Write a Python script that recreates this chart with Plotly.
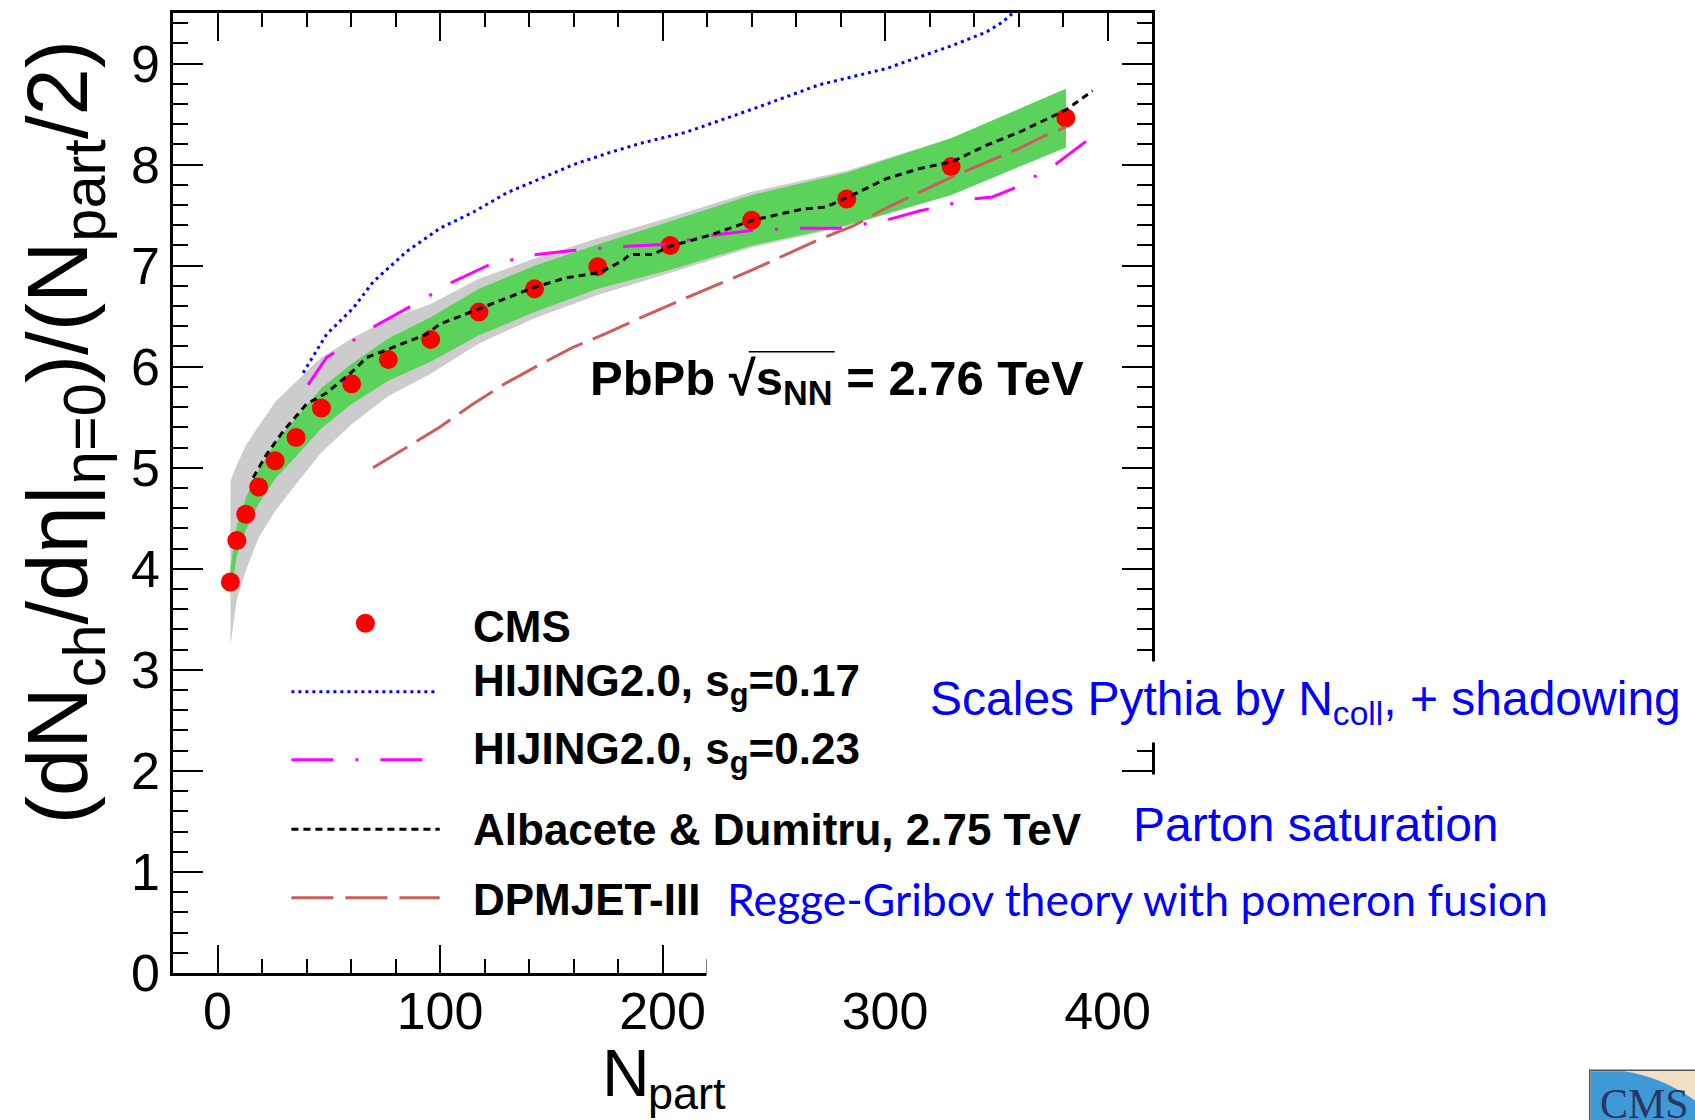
import math
import plotly.graph_objects as go

# ---- CMS measurement: (dN_ch/deta)/(N_part/2) vs N_part, PbPb 2.76 TeV ----
npart = [5.8, 8.7, 12.7, 18.5, 25.9, 35.3, 46.7, 60.3, 76.8, 95.8,
         117.5, 142.5, 170.9, 203.5, 240.1, 282.8, 329.7, 381.3]
cms_val = [3.87, 4.28, 4.54, 4.81, 5.07, 5.30, 5.59, 5.83, 6.07, 6.27,
           6.54, 6.77, 6.99, 7.20, 7.45, 7.66, 7.98, 8.46]
# systematic uncertainty (green band, symmetric)
cms_sys = [0.14, 0.15, 0.16, 0.17, 0.18, 0.19, 0.20, 0.20, 0.21, 0.22,
           0.23, 0.23, 0.22, 0.24, 0.25, 0.26, 0.28, 0.29]
# total uncertainty incl. N_part (grey band)
cms_tot_up = [1.00, 0.75, 0.68, 0.60, 0.58, 0.55, 0.50, 0.45, 0.40, 0.35,
              0.33, 0.30, 0.28, 0.28, 0.28, 0.28, 0.28, 0.29]
cms_tot_dn = [0.63, 0.58, 0.56, 0.50, 0.50, 0.46, 0.44, 0.40, 0.36, 0.34,
              0.31, 0.29, 0.28, 0.27, 0.27, 0.27, 0.28, 0.29]

# ---- model curves ----
hij17_x = [38.5, 49, 61, 70, 85, 100, 115, 130, 145, 160, 175, 190, 210.6,
           240.6, 270.5, 300.5, 330.4, 345.4, 352.8, 358, 362]
hij17_y = [5.94, 6.32, 6.58, 6.84, 7.14, 7.37, 7.53, 7.72, 7.86, 8.00, 8.11,
           8.21, 8.32, 8.55, 8.79, 8.95, 9.18, 9.31, 9.41, 9.51, 9.60]

hij23_x = [40.7, 49, 62.4, 70.6, 87.9, 105.8, 122.3, 143.3, 159.7, 182, 200,
           222.6, 240.6, 261.5, 279.5, 300.5, 315.4, 339.4, 348.3, 357.3,
           375.3, 390.3]
hij23_y = [5.82, 6.09, 6.28, 6.40, 6.61, 6.84, 7.01, 7.11, 7.15, 7.19, 7.21,
           7.30, 7.35, 7.37, 7.37, 7.45, 7.54, 7.66, 7.68, 7.76, 7.98, 8.23]

ad_x = [16, 22, 29.5, 40, 49, 61, 67, 78.9, 93.9, 99.8, 116.3, 141.7, 156.7,
        171.7, 182.2, 185.2, 195.6, 203.1, 221.1, 240.6, 263, 273.5, 285.5,
        300.5, 315.4, 330.4, 345.4, 360.3, 381.3, 393.3]
ad_y = [4.90, 5.13, 5.36, 5.63, 5.74, 5.96, 6.09, 6.19, 6.32, 6.42, 6.56,
        6.78, 6.88, 6.93, 7.05, 7.11, 7.11, 7.19, 7.30, 7.45, 7.56, 7.58,
        7.70, 7.86, 7.96, 8.03, 8.19, 8.32, 8.54, 8.73]

dpm_x = [69.9, 84.9, 99.8, 114.8, 129.8, 144.8, 159.7, 174.7, 189.7, 210.6,
         240.6, 270.5, 285.5, 300.5, 330.4, 360.3, 372.3, 381.3]
dpm_y = [5.00, 5.20, 5.40, 5.63, 5.84, 6.02, 6.19, 6.33, 6.48, 6.68, 6.96,
         7.26, 7.39, 7.57, 7.88, 8.16, 8.29, 8.37]

# axis ticks
x_ticks = [0, 100, 200, 300, 400]
y_ticks = [0, 1, 2, 3, 4, 5, 6, 7, 8, 9]

FONT = "Liberation Sans, Arial, Helvetica, sans-serif"

# plot frame in pixels (figure 1695 x 1120)
W, H = 1695, 1120
PL, PR, PT, PB = 173.3, 1152.3, 10.0, 973.3


def px(x):
    return (x - PL) / (PR - PL)


def py(y):
    return (PB - y) / (PB - PT)


fig = go.Figure()

# grey band: total uncertainty
tot_hi = [v + e for v, e in zip(cms_val, cms_tot_up)]
tot_lo = [v - e for v, e in zip(cms_val, cms_tot_dn)]
fig.add_trace(go.Scatter(x=npart + npart[::-1], y=tot_hi + tot_lo[::-1],
                         fill="toself", fillcolor="#cccccc", mode="none",
                         hoverinfo="skip", showlegend=False))
# green band: systematic uncertainty
sys_hi = [v + e for v, e in zip(cms_val, cms_sys)]
sys_lo = [v - e for v, e in zip(cms_val, cms_sys)]
fig.add_trace(go.Scatter(x=npart + npart[::-1], y=sys_hi + sys_lo[::-1],
                         fill="toself", fillcolor="#5bd35b", mode="none",
                         hoverinfo="skip", showlegend=False))
# CMS points
fig.add_trace(go.Scatter(x=npart, y=cms_val, mode="markers", name="CMS",
                         marker=dict(color="#ff0000", size=19),
                         showlegend=False))
# models
fig.add_trace(go.Scatter(x=dpm_x, y=dpm_y, mode="lines", name="DPMJET-III",
                         line=dict(color="#cd5c5c", width=3,
                                   dash="40px,11px"),
                         showlegend=False))
fig.add_trace(go.Scatter(x=hij23_x, y=hij23_y, mode="lines",
                         name="HIJING2.0, sg=0.23",
                         line=dict(color="#ff00ff", width=3,
                                   dash="42px,22px,3px,22px"),
                         showlegend=False))
fig.add_trace(go.Scatter(x=hij17_x, y=hij17_y, mode="lines",
                         name="HIJING2.0, sg=0.17",
                         line=dict(color="#0000ff", width=3, dash="3px,4px"),
                         showlegend=False))
fig.add_trace(go.Scatter(x=ad_x, y=ad_y, mode="lines",
                         name="Albacete & Dumitru",
                         line=dict(color="#000000", width=3, dash="7px,5px"),
                         showlegend=False))

axis_common = dict(showline=True, linecolor="black", linewidth=2.5,
                   mirror="ticks", ticks="inside", tickwidth=2,
                   tickcolor="black", showgrid=False, zeroline=False,
                   tickfont=dict(family=FONT, size=52, color="black"))

fig.update_xaxes(range=[-20, 420], tickvals=x_ticks, ticklen=28,
                 ticklabelstandoff=-9,
                 minor=dict(ticks="inside", ticklen=14, dtick=20,
                            tickcolor="black", tickwidth=2, showgrid=False),
                 **axis_common)
fig.update_yaxes(range=[0, 9.5], tickvals=y_ticks, ticklen=30,
                 minor=dict(ticks="inside", ticklen=15, dtick=0.2,
                            tickcolor="black", tickwidth=2, showgrid=False),
                 **axis_common)

shapes = []
ann = []

# ---- legend drawn by hand ----
leg_x0, leg_x1 = 291.7, 440.0
shapes.append(dict(type="circle", xref="paper", yref="paper",
                   xsizemode="pixel", ysizemode="pixel",
                   xanchor=px(365.7), yanchor=py(622.3),
                   x0=-9.5, x1=9.5, y0=-9.5, y1=9.5,
                   fillcolor="#ff0000", line=dict(width=0)))
leg_lines = [
    (691.0, "#0000ff", "3px,4px", 436.7),
    (759.3, "#ff00ff", "42px,22px,3px,22px", 423.0),
    (829.0, "#000000", "7px,5px", leg_x1),
    (897.7, "#cd5c5c", "42px,12px", leg_x1),
]
for yy, col, dash, xend in leg_lines:
    shapes.append(dict(type="line", xref="paper", yref="paper",
                       x0=px(leg_x0), x1=px(xend), y0=py(yy), y1=py(yy),
                       line=dict(color=col, width=3, dash=dash)))

leg_text = [
    ("<b>CMS</b>", 626.0),
    ("<b>HIJING2.0, s<sub>g</sub>=0.17</b>", 683.0),
    ("<b>HIJING2.0, s<sub>g</sub>=0.23</b>", 752.0),
    ("<b>Albacete &amp; Dumitru, 2.75 TeV</b>", 829.0),
    ("<b>DPMJET-III</b>", 900.0),
]
for txt, yy in leg_text:
    ann.append(dict(text=txt, xref="paper", yref="paper", x=px(471.7),
                    y=py(yy), xanchor="left", yanchor="middle",
                    showarrow=False,
                    font=dict(family=FONT, size=44, color="black")))

# collision system label, with the bar of the square root
ann.append(dict(text="<b>PbPb √s<sub>NN</sub> = 2.76 TeV</b>",
                xref="paper", yref="paper", x=px(588), y=py(380),
                xanchor="left", yanchor="middle", showarrow=False,
                font=dict(family=FONT, size=49, color="black")))
shapes.append(dict(type="line", xref="paper", yref="paper",
                   x0=px(749), x1=px(835), y0=py(350), y1=py(350),
                   line=dict(color="black", width=1.5)))

# axis titles
ann.append(dict(text="N", xref="paper", yref="paper",
                x=px(600), y=py(1074), xanchor="left", yanchor="middle",
                showarrow=False,
                font=dict(family=FONT, size=66, color="black")))
ann.append(dict(text="part", xref="paper", yref="paper",
                x=px(646), y=py(1094), xanchor="left", yanchor="middle",
                showarrow=False,
                font=dict(family=FONT, size=45, color="black")))
ann.append(dict(text="(dN<sub>ch</sub>/dη|<sub>η=0</sub>)/(N<sub>part</sub>/2)",
                xref="paper", yref="paper", x=px(64), y=py(431),
                xanchor="center", yanchor="middle", textangle=-90,
                showarrow=False,
                font=dict(family=FONT, size=85, color="black")))

# white box laid over the lower right of the frame
ann.append(dict(text=" ", xref="paper", yref="paper", x=px(706),
                y=py(923), xanchor="left", yanchor="middle", width=470,
                height=126, bgcolor="white", showarrow=False,
                font=dict(family=FONT, size=10, color="white")))

# model descriptions
BLUE = "#0000ff"
ann.append(dict(text="Scales Pythia by N<sub>coll</sub>, + shadowing",
                xref="paper", yref="paper", x=px(928), y=py(701),
                xanchor="left", yanchor="middle", width=770, height=78,
                align="left", bgcolor="white", showarrow=False,
                font=dict(family=FONT, size=48, color=BLUE)))
ann.append(dict(text="Parton saturation", xref="paper", yref="paper",
                x=px(1131), y=py(824), xanchor="left", yanchor="middle",
                width=420, height=96, align="left", bgcolor="white",
                showarrow=False,
                font=dict(family=FONT, size=48, color=BLUE)))
ann.append(dict(text="Regge-Gribov theory with pomeron fusion",
                xref="paper", yref="paper", x=px(725), y=py(898),
                xanchor="left", yanchor="middle", width=860, height=60,
                align="left", showarrow=False,
                font=dict(family="Lato, Carlito, sans-serif", size=44.5,
                          color=BLUE)))

# experiment logo in the corner: beige tile with a blue disc segment
lx0, lx1, ly0, ly1 = 1590.0, 1705.0, 1071.0, 1130.0
cx, cy, r = 1600.0, 1230.0, 160.0
shapes.append(dict(type="rect", xref="paper", yref="paper",
                   x0=px(lx0), x1=px(lx1), y0=py(ly0), y1=py(ly1),
                   fillcolor="#f2dec4", line=dict(color="#555555", width=1.5),
                   layer="above"))
arc = []
xx = lx0 + 1
while xx <= lx1:
    yy = cy - math.sqrt(max(r * r - (xx - cx) ** 2, 0.0))
    arc.append((px(xx), py(max(yy, ly0 + 1))))
    xx += 3
path = "M " + " L ".join(f"{a:.5f},{b:.5f}" for a, b in arc)
path += f" L {px(lx1):.5f},{py(ly1):.5f} L {px(lx0 + 1):.5f},{py(ly1):.5f} Z"
shapes.append(dict(type="path", xref="paper", yref="paper", path=path,
                   fillcolor="#3d9ad6", line=dict(width=0), layer="above"))
ann.append(dict(text="CMS", xref="paper", yref="paper", x=px(1598),
                y=py(1105), xanchor="left", yanchor="middle",
                showarrow=False,
                font=dict(family="Liberation Serif, serif", size=42,
                          color="#2a3563")))

fig.update_layout(width=W, height=H,
                  margin=dict(l=PL, r=W - PR, t=PT, b=H - PB),
                  plot_bgcolor="white", paper_bgcolor="white",
                  showlegend=False, shapes=shapes, annotations=ann)

fig.write_html("out.html")
